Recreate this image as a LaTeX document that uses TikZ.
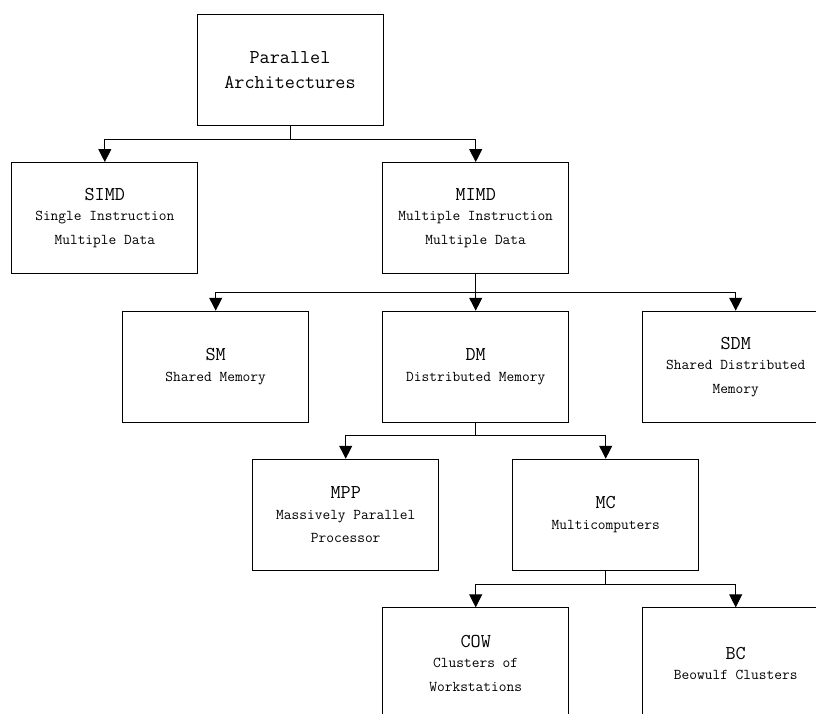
\documentclass[tikz,border=0pt]{standalone}
\usepackage{fontspec}
\usetikzlibrary{arrows.meta}
\newcommand{\headfont}{\ttfamily\fontsize{19.6}{25}\selectfont}
\newcommand{\bodyfont}{\ttfamily\fontsize{15}{23.5}\selectfont}
\newcommand{\hd}[1]{{\headfont #1}\\[-3pt]}
\tikzset{
  box/.style={draw=black, line width=0.9pt, minimum width=186pt, minimum height=111pt,
              inner sep=0pt, align=center, font=\bodyfont},
  link/.style={draw=black, line width=0.9pt},
  arrowlink/.style={link, -{Triangle[width=13pt,length=13pt]}}
}
\begin{document}
\begin{tikzpicture}[x=1pt, y=-1pt]
\useasboundingbox (0,0) rectangle (816,713);

% boxes
\node[box, font=\headfont] (pa)   at (290,69.7)    {Parallel\\Architectures};
\node[box] (simd) at (104.8,218)   {\hd{SIMD}Single Instruction\\Multiple Data};
\node[box] (mimd) at (475.7,218)   {\hd{MIMD}Multiple Instruction\\Multiple Data};
\node[box] (sm)   at (215.7,366.7) {\hd{SM}Shared Memory};
\node[box] (dm)   at (475.7,366.7) {\hd{DM}Distributed Memory};
\node[box] (sdm)  at (735.7,366.7) {\hd{SDM}Shared Distributed\\Memory};
\node[box] (mpp)  at (345.7,514.7) {\hd{MPP}Massively Parallel\\Processor};
\node[box] (mc)   at (605.7,514.7) {\hd{MC}Multicomputers};
\node[box] (cow)  at (475.7,663.3) {\hd{COW}Clusters of\\Workstations};
\node[box] (bc)   at (735.7,663.3) {\hd{BC}Beowulf Clusters};

% branch points
\coordinate (j1) at (290,139);
\coordinate (j2) at (475.7,292.3);
\coordinate (j3) at (475.7,435.7);
\coordinate (j4) at (605.7,584);

% connectors
\draw[link] (pa.south) -- (j1);
\draw[arrowlink] (j1) -| (simd.north);
\draw[arrowlink] (j1) -| (mimd.north);

\draw[link] (mimd.south) -- (j2);
\draw[arrowlink] (j2) -| (sm.north);
\draw[arrowlink] (j2) -- (dm.north);
\draw[arrowlink] (j2) -| (sdm.north);

\draw[link] (dm.south) -- (j3);
\draw[arrowlink] (j3) -| (mpp.north);
\draw[arrowlink] (j3) -| (mc.north);

\draw[link] (mc.south) -- (j4);
\draw[arrowlink] (j4) -| (cow.north);
\draw[arrowlink] (j4) -| (bc.north);
\end{tikzpicture}
\end{document}
